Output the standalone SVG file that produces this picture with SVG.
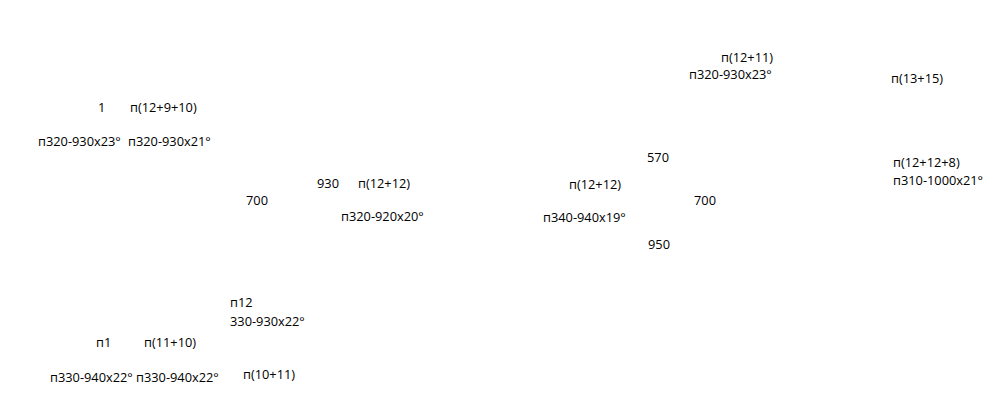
<svg xmlns="http://www.w3.org/2000/svg" width="990" height="419" viewBox="0 0 990 419">
<style>
text { font-family: "Open Sans", "Noto Sans", sans-serif; font-size: 12.8px; fill: #000; }
</style>
<rect width="990" height="419" fill="#fff"/>
<g id="labels">
<text x="98" y="112">1</text>
<text x="130" y="112">п(12+9+10)</text>
<text x="38" y="146">п320-930x23°</text>
<text x="128" y="146">п320-930x21°</text>
<text x="317" y="188">930</text>
<text x="358" y="188">п(12+12)</text>
<text x="246" y="205">700</text>
<text x="341" y="221">п320-920x20°</text>
<text x="721" y="62">п(12+11)</text>
<text x="689" y="79">п320-930x23°</text>
<text x="891" y="83">п(13+15)</text>
<text x="647" y="162">570</text>
<text x="569" y="189">п(12+12)</text>
<text x="694" y="205">700</text>
<text x="543" y="222">п340-940x19°</text>
<text x="648" y="249">950</text>
<text x="893" y="167">п(12+12+8)</text>
<text x="893" y="185">п310-1000x21°</text>
<text x="230" y="307">п12</text>
<text x="230" y="326">330-930x22°</text>
<text x="96" y="347">п1</text>
<text x="144" y="347">п(11+10)</text>
<text x="50" y="382">п330-940x22°</text>
<text x="136" y="382">п330-940x22°</text>
<text x="243" y="379">п(10+11)</text>
</g>
</svg>
